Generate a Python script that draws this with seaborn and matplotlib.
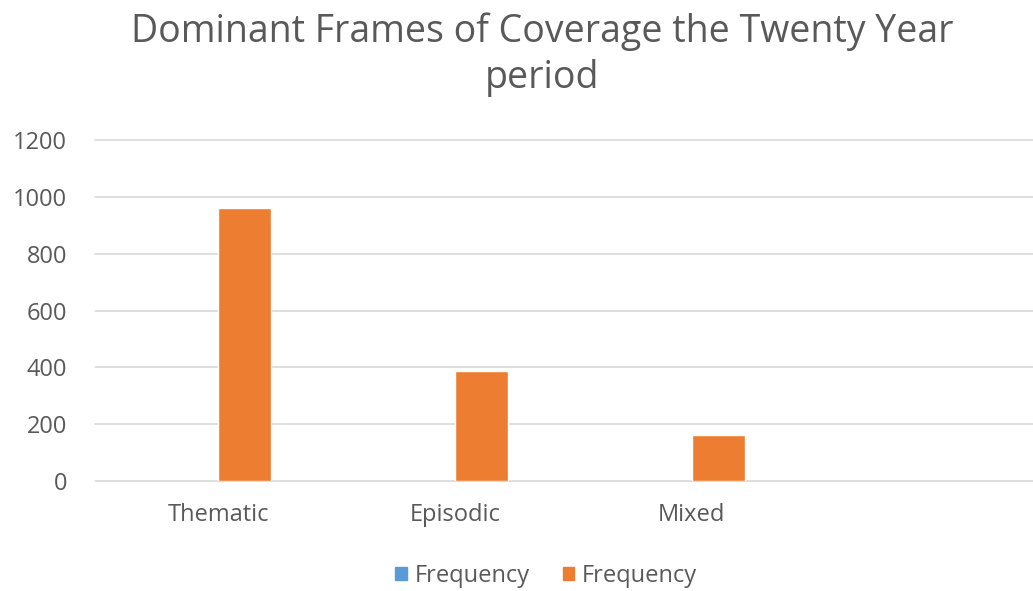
import matplotlib
matplotlib.use("Agg")
import matplotlib.pyplot as plt
import numpy as np
import pandas as pd
import seaborn as sns

# Chart data
categories = ["Thematic", "Episodic", "Mixed", ""]
series_names = ["Frequency ", "Frequency"]
blue_values = [np.nan, np.nan, np.nan, np.nan]
orange_values = [962, 388, 161, np.nan]
y_ticks = [0, 200, 400, 600, 800, 1000, 1200]

df = pd.DataFrame({
    "category": categories * 2,
    "series": [series_names[0]] * 4 + [series_names[1]] * 4,
    "value": blue_values + orange_values,
})

sns.set_style("white")
plt.rcParams["font.family"] = ["Open Sans", "DejaVu Sans"]

fig = plt.figure(figsize=(10.33, 5.91), dpi=100)
ax = fig.add_axes([95 / 1033, 1 - 481 / 591, (1033 - 95) / 1033, 341 / 591])

sns.barplot(data=df, x="category", y="value", hue="series",
            palette=["#5B9BD5", "#ED7D31"], width=0.45, saturation=1, ax=ax,
            order=categories, hue_order=series_names, legend=False)

ax.set_xlim(-0.52, 3.44)
ax.set_ylim(0, 1200)
ax.set_yticks(y_ticks)
ax.set_yticklabels([str(t) for t in y_ticks], fontsize=17, color="#595959")
ax.set_xticks(range(3))
ax.set_xticklabels(categories[:3], fontsize=17, color="#595959")
ax.tick_params(axis="both", length=0)
ax.tick_params(axis="y", pad=20)
ax.tick_params(axis="x", pad=16)
ax.set_xlabel("")
ax.set_ylabel("")
ax.grid(axis="y", color="#D9D9D9", linewidth=1.2)
for gl in ax.get_ygridlines():
    gl.set_clip_on(False)
ax.set_axisbelow(True)
for s in ax.spines.values():
    s.set_visible(False)

fig.text(542 / 1033, 1 - 32 / 591, "Dominant Frames of Coverage the Twenty Year",
         ha="center", va="center", fontsize=27, color="#595959")
fig.text(542 / 1033, 1 - 78 / 591, "period",
         ha="center", va="center", fontsize=27, color="#595959")

handles = [plt.Rectangle((0, 0), 1, 1, color=c) for c in ["#5B9BD5", "#ED7D31"]]
fig.legend(handles, ["Frequency", "Frequency"], loc="center",
           bbox_to_anchor=(546 / 1033, 1 - 576 / 591), ncol=2, frameon=False,
           fontsize=17, labelcolor="#595959", handlelength=0.5, handleheight=0.5,
           handletextpad=0.3, columnspacing=1.4)

fig.savefig("out.png", dpi=100)
